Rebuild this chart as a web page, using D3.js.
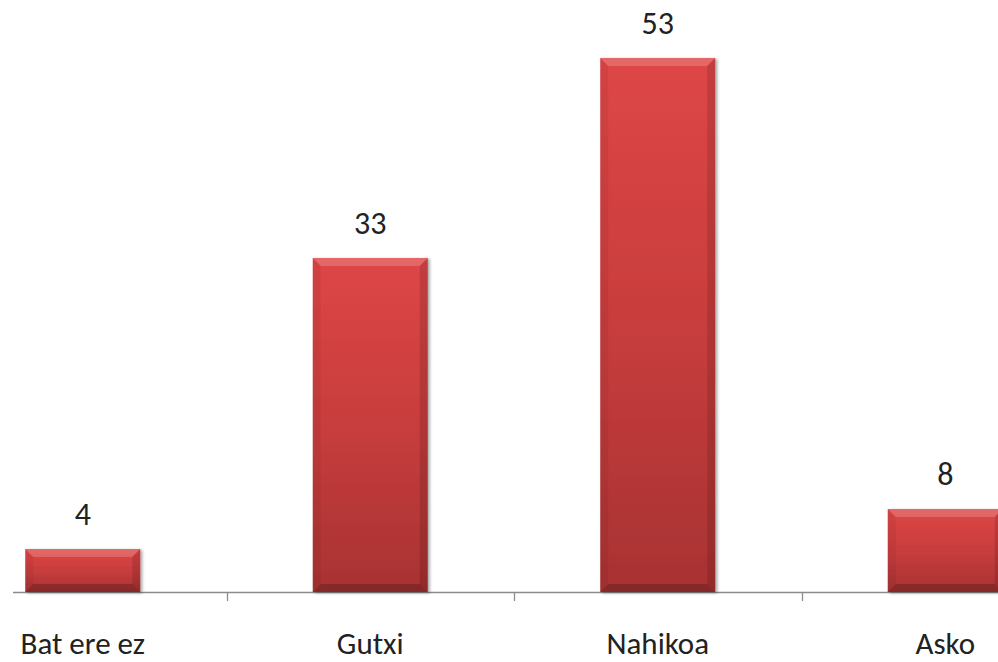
<!DOCTYPE html>
<html><head><meta charset="utf-8">
<script src="https://cdn.jsdelivr.net/npm/d3@7"></script>
<style>html,body{margin:0;padding:0;background:#fff;}svg{display:block;}</style>
</head><body>
<script>
const categories = ["Bat ere ez", "Gutxi", "Nahikoa", "Asko"];
const values = [4.3, 33.4, 53.4, 8.3];
const valueLabels = ["4", "33", "53", "8"];

const W = 998, H = 662;
const svg = d3.select("body").append("svg").attr("width", W).attr("height", H);
const defs = svg.append("defs");
const g1 = defs.append("linearGradient").attr("id","barGrad").attr("x1",0).attr("y1",0).attr("x2",0).attr("y2",1);
g1.append("stop").attr("offset","0%").attr("stop-color","#de4646");
g1.append("stop").attr("offset","50%").attr("stop-color","#c83d3d");
g1.append("stop").attr("offset","100%").attr("stop-color","#a83232");
const f = defs.append("filter").attr("id","sh").attr("x","-10%").attr("y","-10%").attr("width","130%").attr("height","130%");
f.append("feDropShadow").attr("dx",2).attr("dy",1).attr("stdDeviation",1.5).attr("flood-color","#000").attr("flood-opacity",0.35);

const baseY = 592;
const x = d3.scaleBand().domain(categories).range([-61, 1089]).paddingInner(0.6).paddingOuter(0.3);
const y = d3.scaleLinear().domain([0, 60]).range([baseY, baseY - 600]);

const font = "Carlito, 'Open Sans', 'Noto Sans', sans-serif";

svg.append("line").attr("x1", 13).attr("x2", W).attr("y1", baseY + 0.5).attr("y2", baseY + 0.5)
  .attr("stroke", "#8c8c8c").attr("stroke-width", 1.3);
const step = x.step();
categories.slice(1).forEach(c => {
  const tx = Math.round(x(c) - (step - x.bandwidth()) / 2) + 0.5;
  svg.append("line").attr("x1", tx).attr("x2", tx).attr("y1", baseY).attr("y2", baseY + 9)
    .attr("stroke", "#8c8c8c").attr("stroke-width", 1.3);
});

const bev = 8;
categories.forEach((c, i) => {
  const bx = x(c), bw = x.bandwidth(), by = y(values[i]), bh = baseY - by;
  const g = svg.append("g");
  g.append("rect").attr("x", bx).attr("y", by).attr("width", bw).attr("height", bh)
    .attr("fill", "url(#barGrad)").attr("filter", "url(#sh)");
  const b = Math.min(bev, bh / 2);
  g.append("polygon").attr("points", [[bx,by],[bx+bw,by],[bx+bw-b,by+b],[bx+b,by+b]].join(" "))
    .attr("fill", "#ffffff").attr("opacity", 0.18);
  g.append("polygon").attr("points", [[bx,by],[bx+b,by+b],[bx+b,by+bh-b],[bx,by+bh]].join(" "))
    .attr("fill", "#000").attr("opacity", 0.05);
  g.append("polygon").attr("points", [[bx+bw,by],[bx+bw,by+bh],[bx+bw-b,by+bh-b],[bx+bw-b,by+b]].join(" "))
    .attr("fill", "#000").attr("opacity", 0.12);
  g.append("polygon").attr("points", [[bx,by+bh],[bx+b,by+bh-b],[bx+bw-b,by+bh-b],[bx+bw,by+bh]].join(" "))
    .attr("fill", "#000").attr("opacity", 0.2);
  svg.append("text").attr("x", bx + bw / 2).attr("y", by - 24)
    .attr("text-anchor", "middle").attr("font-family", font).attr("font-size", 32)
    .attr("fill", "#222").text(valueLabels[i]);
  svg.append("text").attr("x", bx + bw / 2).attr("y", 654)
    .attr("text-anchor", "middle").attr("font-family", font).attr("font-size", 31)
    .attr("fill", "#222").text(c);
});
</script>
</body></html>
